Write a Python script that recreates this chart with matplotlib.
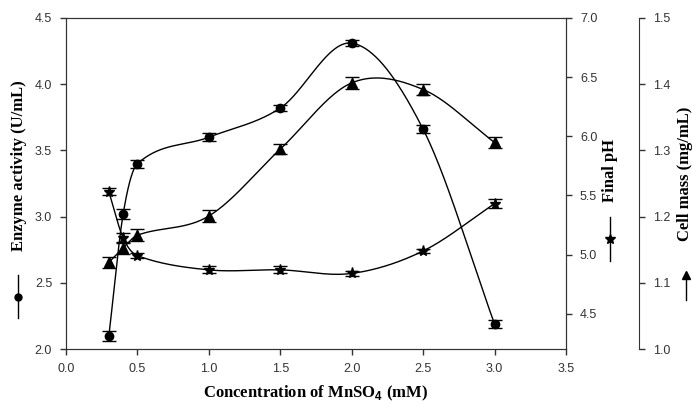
import numpy as np
import matplotlib.pyplot as plt
from matplotlib.lines import Line2D

# MnSO4 concentration (mM)
conc = [0.3, 0.4, 0.5, 1.0, 1.5, 2.0, 2.5, 3.0]

# enzyme activity (U/mL)
enzyme = [2.10, 3.02, 3.40, 3.60, 3.82, 4.31, 3.66, 2.19]
enzyme_err = [0.04, 0.04, 0.03, 0.03, 0.02, 0.02, 0.03, 0.03]

# final pH
ph = [5.53, 5.14, 4.99, 4.87, 4.87, 4.84, 5.03, 5.43]
ph_err = [0.03, 0.04, 0.02, 0.03, 0.03, 0.02, 0.02, 0.04]

# cell mass (mg/mL)
cell = [1.131, 1.153, 1.172, 1.201, 1.302, 1.402, 1.392, 1.312]
cell_err = [0.008, 0.009, 0.009, 0.009, 0.008, 0.009, 0.008, 0.009]


def smooth(x, y, n=60):
    # cubic hermite (catmull-rom style tangents), only for the connecting line
    x = np.asarray(x, float)
    y = np.asarray(y, float)
    m = np.zeros(len(x))
    m[1:-1] = (y[2:] - y[:-2]) / (x[2:] - x[:-2])
    m[0] = (y[1] - y[0]) / (x[1] - x[0])
    m[-1] = (y[-1] - y[-2]) / (x[-1] - x[-2])
    xs_all, ys_all = [], []
    for i in range(len(x) - 1):
        h = x[i + 1] - x[i]
        t = np.linspace(0, 1, n)
        h00 = 2 * t**3 - 3 * t**2 + 1
        h10 = t**3 - 2 * t**2 + t
        h01 = -2 * t**3 + 3 * t**2
        h11 = t**3 - t**2
        xs_all.append(x[i] + t * h)
        ys_all.append(h00 * y[i] + h10 * h * m[i] + h01 * y[i + 1] + h11 * h * m[i + 1])
    return np.concatenate(xs_all), np.concatenate(ys_all)


plt.rcParams['font.family'] = 'Liberation Sans'
plt.rcParams['font.size'] = 9
plt.rcParams['axes.edgecolor'] = '#333333'
plt.rcParams['xtick.color'] = '#333333'
plt.rcParams['ytick.color'] = '#333333'
plt.rcParams['mathtext.fontset'] = 'custom'
plt.rcParams['mathtext.bf'] = 'Liberation Sans:bold'
plt.rcParams['mathtext.rm'] = 'Liberation Serif:bold'

fig = plt.figure(figsize=(6.92, 4.05), dpi=100)
ax = fig.add_axes([0.0954, 0.138, 0.7225, 0.8176])
ax_ph = ax.twinx()
ax_cell = ax.twinx()
ax_cell.spines['right'].set_position(('axes', 1.146))
for s in ['top', 'bottom', 'left']:
    ax_cell.spines[s].set_visible(False)

ebkw = dict(color='black', lw=1, capsize=5, capthick=1, elinewidth=1, ls='none')

xs, ys = smooth(conc, enzyme)
ax.plot(xs, ys, color='black', lw=1)
ax.errorbar(conc, enzyme, yerr=enzyme_err, marker='o', ms=6, **ebkw)

xs, ys = smooth(conc, ph)
ax_ph.plot(xs, ys, color='black', lw=1)
ax_ph.errorbar(conc, ph, yerr=ph_err, marker='*', ms=8, **ebkw)

xs, ys = smooth(conc, cell)
ax_cell.plot(xs, ys, color='black', lw=1)
ax_cell.errorbar(conc, cell, yerr=cell_err, marker='^', ms=6.5, **ebkw)

ax.set_xlim(0, 3.5)
ax.set_ylim(2.0, 4.5)
ax.set_xticks(np.arange(0, 3.51, 0.5))
ax.set_yticks(np.arange(2.0, 4.51, 0.5))
ax.xaxis.set_major_formatter(plt.FormatStrFormatter('%.1f'))
ax.yaxis.set_major_formatter(plt.FormatStrFormatter('%.1f'))

ax_ph.set_ylim(4.2, 7.0)
ax_ph.set_yticks(np.arange(4.5, 7.01, 0.5))
ax_ph.yaxis.set_major_formatter(plt.FormatStrFormatter('%.1f'))

ax_cell.set_ylim(1.0, 1.5)
ax_cell.set_yticks(np.arange(1.0, 1.51, 0.1))
ax_cell.yaxis.set_major_formatter(plt.FormatStrFormatter('%.1f'))

for a in (ax, ax_ph, ax_cell):
    a.tick_params(length=4, width=1, pad=6)

lab = dict(family='Liberation Serif', fontweight='bold', fontsize=12)
ax.set_xlabel('Concentration of MnSO$_\\mathbf{4}$ (mM)', labelpad=6, **lab)

fig.text(0.028, 0.59, 'Enzyme activity (U/mL)', rotation=90, ha='center', va='center', **lab)
fig.text(0.881, 0.58, 'Final pH', rotation=90, ha='center', va='center', **lab)
fig.text(0.99, 0.57, 'Cell mass (mg/mL)', rotation=90, ha='center', va='center', **lab)

# symbol keys beside the axis titles
keys = [(0.026, 'o', 5, 0.215, 0.32), (0.881, '*', 7, 0.355, 0.465), (0.991, '^', 5.5, 0.26, 0.325)]
for kx, mk, ms, y0, y1 in keys:
    fig.add_artist(Line2D([kx, kx], [y0, y1], color='black', lw=1, transform=fig.transFigure))
    ym = (y0 + y1) / 2 if mk != '^' else y1 - 0.005
    fig.add_artist(Line2D([kx], [ym], marker=mk, ms=ms, color='black', transform=fig.transFigure))

fig.savefig('out.png', dpi=100)
